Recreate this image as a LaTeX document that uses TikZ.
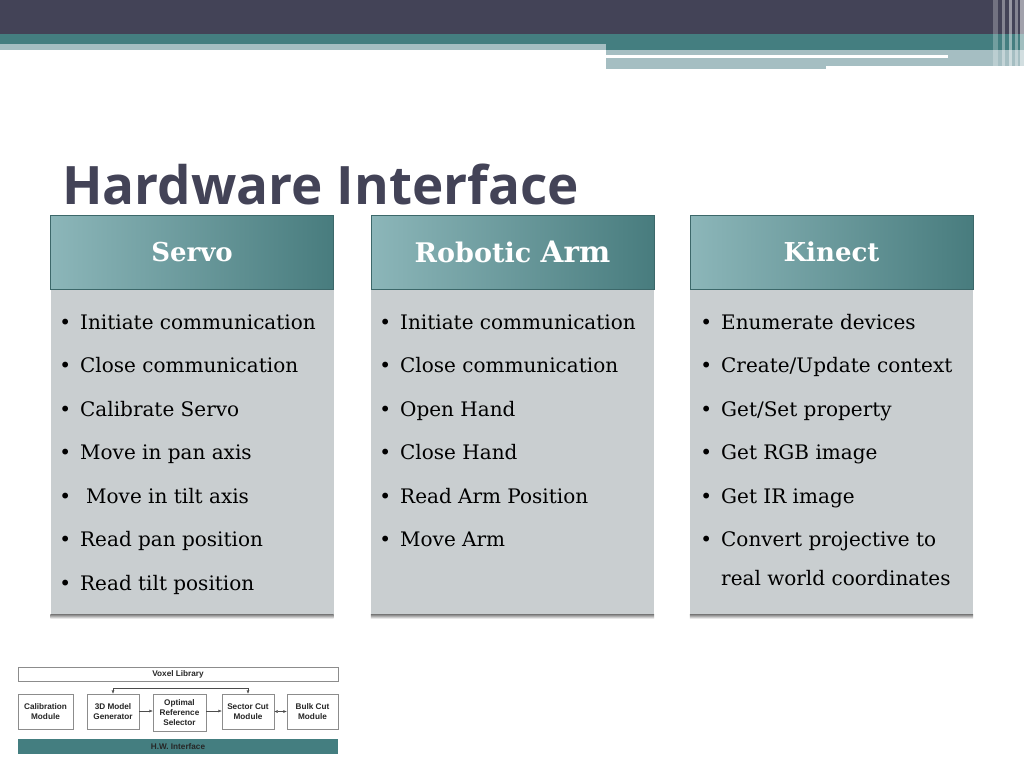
\documentclass[tikz,border=0pt]{standalone}
\usepackage{fontspec}
\setmainfont{DejaVu Serif}
\newfontfamily\titlefont{Open Sans}
\newfontfamily\blockfont{Liberation Sans}
\usetikzlibrary{positioning}
\usetikzlibrary{arrows.meta}
\definecolor{slate}{RGB}{67,67,87}
\definecolor{tealband}{RGB}{68,126,128}
\definecolor{tealpale}{RGB}{165,190,194}
\definecolor{hdlight}{RGB}{140,182,185}
\definecolor{hddark}{RGB}{72,124,126}
\definecolor{hdline}{RGB}{60,104,106}
\definecolor{panelgray}{RGB}{201,206,208}
\newcommand\itemdot{\llap{\textbullet\hspace{9pt}}}
\tikzset{
    header/.style = {rectangle, draw=hdline, thick, left color=hdlight, right color=hddark, minimum width=283pt, minimum height=74pt, text=white, font=\fontsize{26}{30}\selectfont\bfseries},
    panelbox/.style = {rectangle, fill=panelgray, minimum width=283pt, minimum height=325pt},
    panelshade/.style = {top color=black!45, bottom color=white},
    item/.style = {anchor=base west, inner sep=0pt, font=\fontsize{20}{24}\selectfont},
    block/.style = {rectangle, draw=black!45, fill=white, inner sep=1pt, align=center, text=black!85, font=\blockfont\bfseries\fontsize{8.2}{9.7}\selectfont},
    flow/.style = {-{Latex[length=3.5pt,width=3pt]}, black!70, thin},
    flowboth/.style = {{Latex[length=3.5pt,width=3pt]}-{Latex[length=3.5pt,width=3pt]}, black!70, thin},
}
\begin{document}
\begin{tikzpicture}[x=1pt,y=-1pt]
\useasboundingbox (0,0) rectangle (1024,768);
% top bars
\fill[slate] (0,0) rectangle (1024,34);
\fill[tealband] (0,34) rectangle (1024,44);
\fill[tealband] (606,44) rectangle (1024,50);
\fill[tealpale] (0,44) rectangle (606,50);
\fill[tealpale] (606,50) rectangle (1024,66);
\fill[tealpale] (606,66) rectangle (826,69);
\fill[white] (606,55) rectangle (948,58);
\fill[white,opacity=0.25] (993,0) rectangle (998,69);
\fill[white,opacity=0.35] (1002,0) rectangle (1005,69);
\fill[white,opacity=0.45] (1009,0) rectangle (1012,69);
\fill[white,opacity=0.35] (1015,0) rectangle (1018,69);
\fill[white,opacity=0.5] (1020,0) rectangle (1024,69);
%
\node[anchor=base west, inner sep=0pt, text=slate, font=\titlefont\bfseries\fontsize{53}{60}\selectfont] (title) at (62,204) {Hardware Interface};
%
\node[header] (servo) at (192,252) {Servo};
\node[header, font=\fontsize{27}{30}\selectfont\bfseries] (arm) at (512.5,252) {Robotic {\fontsize{29.5}{30}\selectfont Arm}};
\node[header] (kinect) at (831.5,252) {Kinect};
\node[panelbox, below=0pt of servo] (servobox) {};
\node[panelbox, below=0pt of arm] (armbox) {};
\node[panelbox, below=0pt of kinect] (kinectbox) {};
\shade[panelshade] (servobox.south west) rectangle ([yshift=-4pt]servobox.south east);
\shade[panelshade] (armbox.south west) rectangle ([yshift=-4pt]armbox.south east);
\shade[panelshade] (kinectbox.south west) rectangle ([yshift=-4pt]kinectbox.south east);
%
\node[item] (s1) at (80,329) {\itemdot Initiate communication};
\node[item] (s2) at (80,372) {\itemdot Close communication};
\node[item] (s3) at (80,416) {\itemdot Calibrate Servo};
\node[item] (s4) at (80,459) {\itemdot Move in pan axis};
\node[item] (s5) at (80,503) {\itemdot\hspace{6pt}Move in tilt axis};
\node[item] (s6) at (80,546) {\itemdot Read pan position};
\node[item] (s7) at (80,590) {\itemdot Read tilt position};
%
\node[item] (a1) at (400,329) {\itemdot Initiate communication};
\node[item] (a2) at (400,372) {\itemdot Close communication};
\node[item] (a3) at (400,416) {\itemdot Open Hand};
\node[item] (a4) at (400,459) {\itemdot Close Hand};
\node[item] (a5) at (400,503) {\itemdot Read Arm Position};
\node[item] (a6) at (400,546) {\itemdot Move Arm};
%
\node[item] (k1) at (721,329) {\itemdot Enumerate devices};
\node[item] (k2) at (721,372) {\itemdot Create/Update context};
\node[item] (k3) at (721,416) {\itemdot Get/Set property};
\node[item] (k4) at (721,459) {\itemdot Get RGB image};
\node[item] (k5) at (721,503) {\itemdot Get IR image};
\node[item] (k6) at (721,546) {\itemdot Convert projective to};
\node[item] (k7) at (721,585) {real world coordinates};
%
\node[block, minimum width=320pt, minimum height=14pt] (voxel) at (178,674) {Voxel Library};
\node[block, minimum width=55pt, minimum height=35pt] (calib) at (45.5,711.5) {Calibration\\Module};
\node[block, minimum width=52pt, minimum height=35pt] (gen) at (113,711.5) {3D Model\\Generator};
\node[block, minimum width=53pt, minimum height=37pt] (ref) at (179.5,712.5) {Optimal\\Reference\\Selector};
\node[block, minimum width=52pt, minimum height=35pt] (sector) at (248,711.5) {Sector Cut\\Module};
\node[block, minimum width=51pt, minimum height=35pt] (bulk) at (312.5,711.5) {Bulk Cut\\Module};
\node[block, draw=none, fill=tealband, minimum width=320pt, minimum height=15pt] (hw) at (178,746.5) {H.W. Interface};
\coordinate (loop) at (0,688);
%
\draw[flow] (gen.east |- 0,711) -- (ref.west |- 0,711);
\draw[flow] (ref.east |- 0,711) -- (sector.west |- 0,711);
\draw[flowboth] (sector.east) -- (bulk.west);
\draw[flowboth] (gen.north) -- (gen.north |- loop) -- (sector.north |- loop) -- (sector.north);
\end{tikzpicture}
\end{document}
